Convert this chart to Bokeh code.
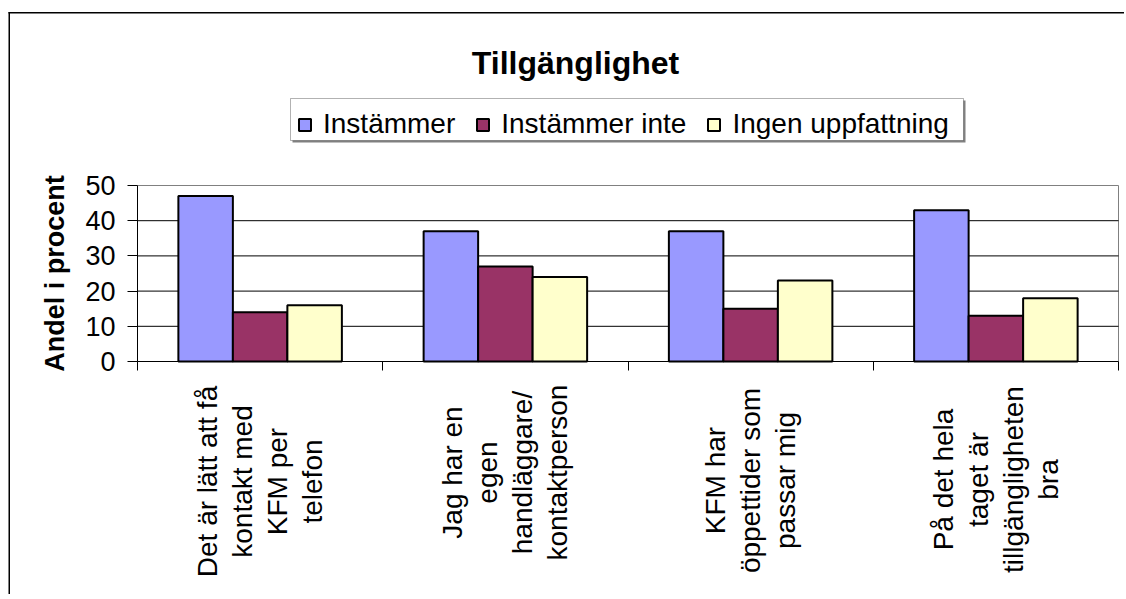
from bokeh.plotting import figure
from bokeh.models import (ColumnDataSource, FixedTicker, Legend, LegendItem, Label,
                          LabelSet, Range1d, BoxAnnotation, LinearAxis)
from bokeh.core.properties import value
from bokeh.transform import dodge
from bokeh.embed import file_html
from bokeh.resources import INLINE
import numpy as np

# ---------------- data ----------------
chart_title = "Tillgänglighet"
y_axis_label = "Andel i procent"
categories = [
    "Det är lätt att få\nkontakt med\nKFM per\ntelefon",
    "Jag har en\negen\nhandläggare/\nkontaktperson",
    "KFM har\nöppettider som\npassar mig",
    "På det hela\ntaget är\ntillgängligheten\nbra",
]
series_names = ["Instämmer", "Instämmer inte", "Ingen uppfattning"]
instammer = [47, 37, 37, 43]
instammer_inte = [14, 27, 15, 13]
ingen_uppfattning = [16, 24, 23, 18]
y_ticks = [0, 10, 20, 30, 40, 50]
y_max = 50

# ---------------- layout / style ----------------
FONT = "Liberation Sans"
colors = ["#9999FF", "#993366", "#FFFFCC"]
FW, FH = 1124, 594          # canvas (= frame) size
X0, X1 = 137, 1118          # pixel x of plot area left/right
Y0, Y1 = 361, 185           # pixel y of value 0 / value 50
n = len(categories)
ppx = (X1 - X0) / n
ppy = (Y0 - Y1) / y_max
bar_w = 1 / 4.5
label_center_y = [481, 472, 480, 479]   # canvas px of each label block's centre
line_step = 35                          # px between label lines
LEG_L, LEG_R, LEG_T, LEG_B = 290, 963, 98, 140

src = ColumnDataSource(dict(
    x=np.arange(n) + 0.5,
    s0=instammer, s1=instammer_inte, s2=ingen_uppfattning,
))

p = figure(frame_width=FW, frame_height=FH,
           x_range=Range1d(-X0 / ppx, (FW - X0) / ppx),
           y_range=Range1d(-(FH - Y0) / ppy, Y0 / ppy),
           output_backend="svg", toolbar_location=None, title=None,
           x_axis_location=None, y_axis_location=None,
           min_border=0, min_border_left=0, min_border_right=0,
           min_border_top=0, min_border_bottom=0)
p.background_fill_color = "white"
p.border_fill_color = "white"
p.outline_line_color = None
p.xgrid.visible = False
p.ygrid.visible = False

def strip(l, r, t, b, color):
    return BoxAnnotation(left=l, right=r, top=t, bottom=b,
                         left_units="canvas", right_units="canvas",
                         top_units="canvas", bottom_units="canvas",
                         fill_color=color, fill_alpha=1, line_alpha=0)

# outer chart border: only left and top edges are inside the window
p.add_layout(strip(8, 9.5, 11.5, FH, "black"))
p.add_layout(strip(8, FW, 11.5, 13, "black"))

# plot-area border (grey): top and right edges
p.segment(x0=[0, n], x1=[n, n], y0=[y_max, 0], y1=[y_max, y_max],
          line_color="#808080", line_width=1, level="underlay")

# horizontal gridlines
gy = [t for t in y_ticks if 0 < t < y_max]
p.segment(x0=[0] * len(gy), x1=[n] * len(gy), y0=gy, y1=gy,
          line_color="black", line_width=1, level="underlay")

# bars
renderers = []
cols = ["s0", "s1", "s2"]
offs = [-bar_w, 0, bar_w]
for col, off, c in zip(cols, offs, colors):
    r = p.vbar(x=dodge("x", off, range=p.x_range), top=col, width=bar_w, bottom=0,
               source=src, fill_color=c, line_color="black", line_width=2)
    renderers.append(r)

# y axis
ya = LinearAxis(fixed_location=0, bounds=(0, y_max))
ya.ticker = FixedTicker(ticks=y_ticks)
ya.major_label_text_font = FONT
ya.major_label_text_font_size = "27px"
ya.major_label_text_color = "black"
ya.major_tick_out = 10
ya.major_tick_in = 0
ya.minor_tick_out = 0
ya.minor_tick_in = 0
ya.major_label_standoff = 12
ya.axis_line_color = "black"
ya.major_tick_line_color = "black"
ya.axis_label = y_axis_label
ya.axis_label_text_font = FONT
ya.axis_label_text_font_size = "27px"
ya.axis_label_text_font_style = "bold"
ya.axis_label_text_color = "black"
ya.axis_label_standoff = 12
p.add_layout(ya, "left")

# x axis: category-boundary ticks only
xa = LinearAxis(fixed_location=0, bounds=(0, n))
xa.ticker = FixedTicker(ticks=list(range(n + 1)), minor_ticks=[])
xa.major_tick_out = 9
xa.major_tick_in = 0
xa.minor_tick_out = 0
xa.minor_tick_in = 0
xa.major_label_overrides = {i: "" for i in range(n + 1)}
xa.axis_line_color = "black"
xa.major_tick_line_color = "black"
p.add_layout(xa, "below")

# category labels: one centred, rotated text per line
lx, ly, lt, lo = [], [], [], []
for i, cat in enumerate(categories):
    lines = cat.split("\n")
    k = len(lines)
    for j, line in enumerate(lines):
        lx.append(i + 0.5)
        ly.append(label_center_y[i])
        lt.append(line)
        lo.append((j - (k - 1) / 2) * line_step)
lab_src = ColumnDataSource(dict(x=lx, y=ly, text=lt, xo=lo))
p.add_layout(LabelSet(x="x", y="y", text="text", x_offset="xo", source=lab_src,
                      x_units="data", y_units="canvas", angle=np.pi / 2,
                      text_align="center", text_baseline="middle",
                      text_font=value(FONT), text_font_size=value("28px"),
                      text_color="black"))

# title
p.add_layout(Label(x=575, y=62, x_units="canvas", y_units="canvas", text=chart_title,
                   text_align="center", text_baseline="alphabetic",
                   text_font=FONT, text_font_size="32px", text_font_style="bold",
                   text_color="black"))

# legend box with shadow
p.add_layout(strip(LEG_L + 2, LEG_R + 2, LEG_T + 2, LEG_B + 2, "#808080"))
p.add_layout(BoxAnnotation(left=LEG_L, right=LEG_R, top=LEG_T, bottom=LEG_B,
                           left_units="canvas", right_units="canvas",
                           top_units="canvas", bottom_units="canvas",
                           fill_color="white", fill_alpha=1,
                           line_color="black", line_width=1))

legend = Legend(items=[LegendItem(label=nm, renderers=[r]) for nm, r in zip(series_names, renderers)],
                orientation="horizontal", location=(302 - 5, FH - LEG_B))
legend.label_text_font = FONT
legend.label_text_font_size = "28px"
legend.label_text_color = "black"
legend.glyph_width = 15
legend.glyph_height = 15
legend.label_standoff = 11
legend.spacing = 20
legend.padding = 5
legend.margin = 0
legend.border_line_color = None
legend.background_fill_alpha = 0
p.add_layout(legend)

open("out.html", "w").write(file_html(p, INLINE))
